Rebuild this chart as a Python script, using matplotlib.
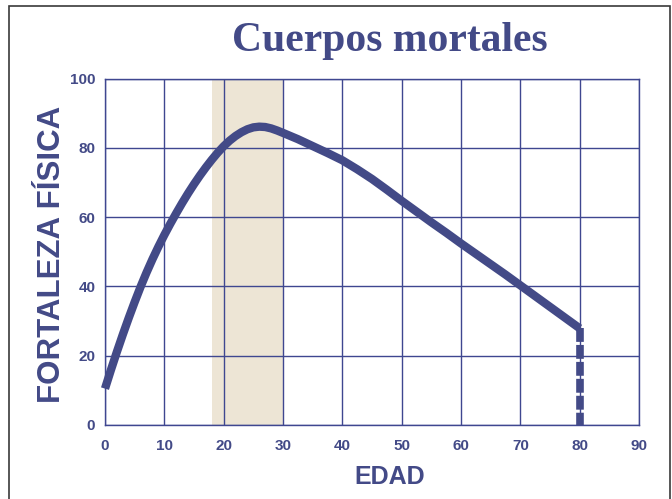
import matplotlib
matplotlib.use("Agg")
import matplotlib.pyplot as plt
from matplotlib.patches import Rectangle

# data
edad = [0, 1, 2, 3, 4, 5, 6, 7, 8, 9, 10, 11, 12, 13, 14, 15, 16, 17, 18, 19,
        20, 21, 22, 23, 24, 25, 26, 27, 28, 29, 30, 32.5, 35, 37.5, 40, 42.5,
        45, 47.5, 50, 52.5, 55, 57.5, 60, 62.5, 65, 67.5, 70, 72.5, 75, 77.5, 80]
fuerza = [10.5, 15.9, 21.1, 26.1, 30.9, 35.5, 39.9, 44.0, 47.85, 51.45, 54.85,
          58.05, 61.1, 64.05, 66.85, 69.5, 72.0, 74.35, 76.55, 78.6, 80.45, 82.05,
          83.4, 84.5, 85.35, 85.9, 86.1, 86.0, 85.6, 85.0, 84.3, 82.5, 80.5, 78.5,
          76.4, 73.8, 71.0, 67.9, 64.7, 61.6, 58.5, 55.5, 52.4, 49.4, 46.4, 43.4,
          40.3, 37.2, 34.1, 31.0, 27.9]
banda = (18, 30)
xticks = list(range(0, 100, 10))
yticks = list(range(0, 120, 20))

azul = "#434a87"
grid_c = "#3f4790"
beige = "#ede5d5"

plt.rcParams['lines.scale_dashes'] = False

fig = plt.figure(figsize=(6.72, 4.99), dpi=100)
ax = fig.add_axes([105 / 672, 1 - 425 / 499, 534 / 672, (425 - 78.5) / 499])

ax.axvspan(banda[0], banda[1], color=beige, lw=0, zorder=0)
ax.set_xlim(0, 90)
ax.set_ylim(0, 100)
ax.set_xticks(xticks)
ax.set_yticks(yticks)
ax.grid(True, color=grid_c, lw=1.0, zorder=1)
ax.set_axisbelow(True)
for s in ax.spines.values():
    s.set_color(grid_c)
    s.set_linewidth(1.0)

ax.plot(edad, fuerza, color=azul, lw=6, solid_capstyle="butt",
        solid_joinstyle="round", zorder=3, clip_on=False)
ax.plot([edad[-1], edad[-1]], [fuerza[-1], 0], color=azul, lw=5.5,
        dashes=(10, 2.2), dash_capstyle="butt", zorder=3)

ax.tick_params(axis="both", length=0, labelsize=11, labelcolor=azul)
ax.tick_params(axis="x", pad=10)
ax.tick_params(axis="y", pad=7)
for lab in ax.get_xticklabels() + ax.get_yticklabels():
    lab.set_fontweight("bold")
    lab.set_fontfamily("Liberation Sans")

fig.text(390 / 672, 1 - 41 / 499, "Cuerpos mortales", ha="center", va="center",
         fontsize=30, fontweight="bold", family="Liberation Serif", color=azul)
fig.text(52 / 672, 1 - 254 / 499, "FORTALEZA FÍSICA", rotation=90, ha="center",
         va="center", fontsize=22.5, fontweight="bold", family="Liberation Sans",
         color=azul)
fig.text(390 / 672, 1 - 477 / 499, "EDAD", ha="center", va="center",
         fontsize=18, fontweight="bold", family="Liberation Sans", color=azul)

fig.patches.append(Rectangle((9 / 672, -0.05), 661 / 672, 1.05 - 6 / 499,
                             transform=fig.transFigure, fill=False,
                             edgecolor="#3a3a3a", lw=1.2))

fig.savefig("out.png", dpi=100)
